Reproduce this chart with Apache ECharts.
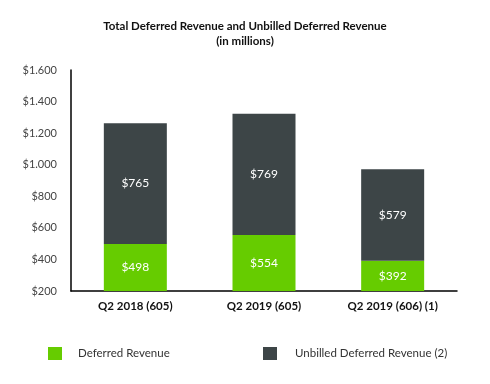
<!DOCTYPE html>
<html><head><meta charset="utf-8">
<script src="https://cdn.jsdelivr.net/npm/echarts@6/dist/echarts.min.js"></script>
<style>html,body{margin:0;padding:0;background:#fff}#c{width:490px;height:384px}</style>
</head><body><div id="c"></div>
<script>
const categories = ['Q2 2018 (605)', 'Q2 2019 (605)', 'Q2 2019 (606) (1)'];
const deferredRevenue = [498, 554, 392];
const unbilledDeferred = [765, 769, 579];
const yTickValues = [200, 400, 600, 800, 1000, 1200, 1400, 1600];
const yTickLabels = ['$200', '$400', '$600', '$800', '$1.000', '$1.200', '$1.400', '$1.600'];
const seriesNames = ['Deferred Revenue', 'Unbilled Deferred Revenue (2)'];

const FONT = 'Lato, "Noto Sans", sans-serif';
const chart = echarts.init(document.getElementById('c'), null, {renderer: 'canvas'});
chart.setOption({
  animation: false,
  backgroundColor: '#fff',
  title: {
    text: 'Total Deferred Revenue and Unbilled Deferred Revenue\n(in millions)',
    left: 'center', top: 14,
    textStyle: {fontFamily: FONT, fontSize: 11.5, fontWeight: 'bold', color: '#111', lineHeight: 15, align: 'center'}
  },
  legend: [
    {data: [seriesNames[0]], left: 43, top: 342, itemWidth: 14, itemHeight: 13, icon: 'rect',
     textStyle: {fontFamily: FONT, fontSize: 11.5, color: '#333', padding: [0, 0, 0, 11]}},
    {data: [seriesNames[1]], left: 258, top: 342, itemWidth: 14, itemHeight: 13, icon: 'rect',
     textStyle: {fontFamily: FONT, fontSize: 11.5, color: '#333', padding: [0, 0, 0, 13]}}
  ],
  grid: {left: 71, right: 33, top: 70, bottom: 93, containLabel: false},
  xAxis: {
    type: 'category', data: categories,
    axisLine: {lineStyle: {color: '#000', width: 1.5}},
    axisTick: {show: false},
    axisLabel: {fontFamily: FONT, fontSize: 11.5, fontWeight: 'bold', color: '#111', margin: 9}
  },
  yAxis: {
    type: 'value', min: 200, max: 1600, interval: 200,
    axisLine: {show: true, lineStyle: {color: '#000', width: 1.5}},
    axisTick: {show: false},
    splitLine: {show: false},
    axisLabel: {fontFamily: FONT, fontSize: 11, color: '#444', margin: 14,
      formatter: v => yTickLabels[yTickValues.indexOf(v)]}
  },
  series: [
    {name: seriesNames[0], type: 'bar', stack: 't', data: deferredRevenue, barWidth: 63,
     itemStyle: {color: '#66cc00'},
     label: {show: true, position: 'inside', color: '#fff', fontFamily: FONT, fontSize: 12, formatter: p => '$' + p.value}},
    {name: seriesNames[1], type: 'bar', stack: 't', data: unbilledDeferred, barWidth: 63,
     itemStyle: {color: '#3d4547'},
     label: {show: true, position: 'inside', color: '#fff', fontFamily: FONT, fontSize: 12, formatter: p => '$' + p.value}}
  ]
});
</script></body></html>
